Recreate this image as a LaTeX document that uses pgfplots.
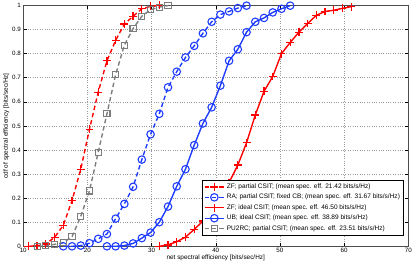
\documentclass[border=0pt]{standalone}
\usepackage{fontspec}
\setmainfont{Liberation Sans}
\usepackage{pgfplots}
\pgfplotsset{compat=1.18}
\definecolor{mred}{RGB}{255,0,0}
\definecolor{mblue}{RGB}{30,60,255}
\definecolor{mgray}{RGB}{125,125,125}
\begin{document}
\begin{tikzpicture}
\begin{axis}[
  scale only axis,
  width=390pt, height=244pt,
  xmin=10, xmax=70, ymin=0, ymax=1,
  xtick={10,20,...,70},
  ytick={0,0.1,...,1},
  yticklabels={0,0.1,0.2,0.3,0.4,0.5,0.6,0.7,0.8,0.9,1},
  tick align=inside,
  xtick pos=both, ytick pos=both,
  major tick length=3.5pt,
  tick style={black, line width=0.4pt},
  grid=major,
  major grid style={dotted, gray!80, line width=0.5pt},
  axis line style={black!70, line width=0.5pt},
  /pgf/number format/assume math mode=true,
  tick label style={font=\fontsize{6.3}{7}\selectfont},
  xticklabel style={yshift=1.5pt},
  yticklabel style={xshift=1pt},
  label style={font=\fontsize{6.5}{7.5}\selectfont},
  xlabel={net spectral efficiency [bits/sec/Hz]},
  ylabel={cdf of spectral efficiency [bits/sec/Hz]},
  xlabel style={yshift=4.5pt},
  ylabel style={yshift=-4pt},
  legend style={at={(rel axis cs:0.988,0.045)}, anchor=south east,
    font=\fontsize{6.6}{8}\selectfont, draw=black, line width=0.5pt,
    inner sep=1.5pt, row sep=0.3pt, cells={anchor=west}},
  legend image post style={line width=1.4pt},
  legend image code/.code={%
    \draw[mark repeat=2,mark phase=2] plot coordinates {(0cm,0cm) (0.35cm,0cm) (0.7cm,0cm)};},
]
% ZF partial CSIT
\addplot[mred, line width=1.4pt, dash pattern=on 4.5pt off 3pt, mark=+, mark size=4pt, mark options={solid, line width=1.3pt}] coordinates {
(10.80,0) (12.16,0.002) (13.52,0.01) (14.88,0.037) (16.24,0.087) (17.60,0.19) (18.96,0.32) (20.32,0.486) (21.68,0.64) (23.04,0.77) (24.40,0.855) (25.76,0.923) (27.12,0.955) (28.48,0.986) (29.84,0.996) (31.20,1.0)};
\addlegendentry{ZF; partial CSIT; (mean spec. eff. 21.42 bits/s/Hz)}
% RA partial CSIT
\addplot[mblue, line width=1.4pt, dash pattern=on 4.5pt off 3pt, mark=o, mark size=3.8pt, mark options={solid, line width=1.1pt}] coordinates {
(16.24,0) (17.60,0) (18.96,0.003) (20.32,0.013) (21.68,0.031) (23.04,0.051) (24.40,0.115) (25.76,0.176) (27.12,0.247) (28.48,0.36) (29.84,0.465) (31.20,0.55) (32.56,0.66) (33.92,0.725) (35.28,0.784) (36.64,0.832) (38.00,0.884) (39.36,0.932) (40.72,0.962) (42.08,0.975) (43.44,0.989) (44.80,0.999)};
\addlegendentry{RA; partial CSIT; fixed CB; (mean spec. eff. 31.67 bits/s/Hz)}
% ZF ideal CSIT
\addplot[mred, line width=1.4pt, mark=+, mark size=4pt, mark options={solid, line width=1.3pt}] coordinates {
(31.20,0) (32.56,0.006) (33.92,0.019) (35.28,0.038) (36.64,0.07) (38.00,0.105) (39.36,0.15) (40.72,0.20) (42.08,0.265) (43.44,0.337) (44.80,0.43) (46.16,0.545) (47.52,0.643) (48.88,0.705) (50.24,0.80) (51.60,0.846) (52.96,0.889) (54.32,0.925) (55.68,0.959) (57.04,0.975) (58.40,0.98) (59.76,0.988) (61.12,0.995)};
\addlegendentry{ZF; ideal CSIT; (mean spec. eff. 46.50 bits/s/Hz)}
% UB ideal CSIT
\addplot[mblue, line width=1.4pt, mark=o, mark size=3.8pt, mark options={solid, line width=1.1pt}] coordinates {
(23.04,0) (24.40,0) (25.76,0.003) (27.12,0.012) (28.48,0.034) (29.84,0.057) (31.20,0.10) (32.56,0.165) (33.92,0.249) (35.28,0.32) (36.64,0.42) (38.00,0.51) (39.36,0.577) (40.72,0.667) (42.08,0.77) (43.44,0.818) (44.80,0.889) (46.16,0.932) (47.52,0.948) (48.88,0.971) (50.24,0.986) (51.60,0.999)};
\addlegendentry{UB; ideal CSIT; (mean spec. eff. 38.89 bits/s/Hz)}
% PU2RC partial CSIT
\addplot[mgray, line width=1.4pt, dash pattern=on 4.5pt off 3pt, mark=square, mark size=3.1pt, mark options={solid, line width=1.1pt}] coordinates {
(12.16,0) (13.52,0.003) (14.88,0.008) (16.24,0.015) (17.60,0.04) (18.96,0.124) (20.32,0.23) (21.68,0.39) (23.04,0.55) (24.40,0.713) (25.76,0.835) (27.12,0.904) (28.48,0.955) (29.84,0.982) (31.20,0.993) (32.56,0.999)};
\addlegendentry{PU2RC; partial CSIT; (mean spec. eff. 23.51 bits/s/Hz)}
\end{axis}
\end{tikzpicture}
\end{document}
